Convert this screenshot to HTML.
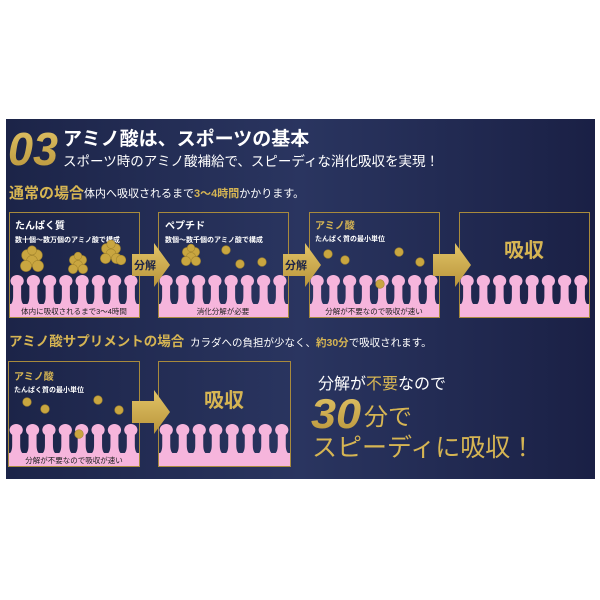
<!DOCTYPE html>
<html><head><meta charset="utf-8"><style>
body{margin:0;background:#fff;width:600px;height:600px;overflow:hidden;font-family:"Liberation Sans","Noto Sans CJK JP",sans-serif}
</style></head><body>
<svg id="s" width="600" height="600" xmlns="http://www.w3.org/2000/svg" style="position:absolute;left:0;top:0">
<defs>
<linearGradient id="bg" x1="0" y1="0" x2="1" y2="0">
<stop offset="0" stop-color="#1c2448"/><stop offset="0.5" stop-color="#2a3560"/><stop offset="1" stop-color="#1a2045"/>
</linearGradient>
<linearGradient id="gold" x1="0" y1="0" x2="0" y2="1">
<stop offset="0" stop-color="#e2c467"/><stop offset="1" stop-color="#b8943a"/>
</linearGradient>
</defs>
<rect x="6" y="119" width="589" height="360" fill="url(#bg)"/>
<g id="dyn"></g>
<text x="8" y="165" font-size="46" font-weight="bold" font-style="italic" fill="url(#gold)" font-family="Liberation Sans, sans-serif" textLength="50" lengthAdjust="spacingAndGlyphs">03</text>
<text x="63" y="145" font-size="19" font-weight="bold" fill="#fff" font-family="Liberation Sans, Noto Sans CJK JP, sans-serif">アミノ酸は、スポーツの基本</text>
<text x="63" y="166" font-size="13.5" fill="#fff" font-family="Liberation Sans, Noto Sans CJK JP, sans-serif">スポーツ時のアミノ酸補給で、スピーディな消化吸収を実現！</text>
<text x="9" y="198" font-size="15" font-weight="bold" fill="#d6b553" font-family="Liberation Sans, Noto Sans CJK JP, sans-serif">通常の場合</text>
<text x="84" y="197" font-size="11" fill="#fff" font-family="Liberation Sans, Noto Sans CJK JP, sans-serif">体内へ吸収されるまで<tspan fill="#d6b553" font-weight="bold">3〜4時間</tspan>かかります。</text>
<text x="9" y="346" font-size="13.5" font-weight="bold" fill="#d6b553" font-family="Liberation Sans, Noto Sans CJK JP, sans-serif">アミノ酸サプリメントの場合</text>
<text x="190" y="346" font-size="10.5" fill="#fff" font-family="Liberation Sans, Noto Sans CJK JP, sans-serif">カラダへの負担が少なく、<tspan fill="#d6b553" font-weight="bold">約30分</tspan>で吸収されます。</text>
<text x="318" y="389" font-size="16" fill="#fff" font-family="Liberation Sans, Noto Sans CJK JP, sans-serif">分解が<tspan fill="#d6b553">不要</tspan>なので</text>
<text x="311" y="428" font-size="42" font-weight="bold" font-style="italic" fill="url(#gold)" font-family="Liberation Sans, sans-serif" textLength="50" lengthAdjust="spacingAndGlyphs">30</text>
<text x="364" y="425" font-size="24" fill="#d6b553" font-family="Liberation Sans, Noto Sans CJK JP, sans-serif">分で</text>
<text x="312" y="456" font-size="25" fill="#d6b553" font-family="Liberation Sans, Noto Sans CJK JP, sans-serif">スピーディに吸収！</text>
</svg>
<script>
var NS="http://www.w3.org/2000/svg",g=document.getElementById('dyn'),F="Liberation Sans, Noto Sans CJK JP, sans-serif";
function el(t,a,txt){var e=document.createElementNS(NS,t);for(var k in a)e.setAttribute(k,a[k]);if(txt)e.textContent=txt;g.appendChild(e);return e;}
var PK='#f6b5dc';
function villi(x0,w,yT,yB,yE){
 el('rect',{x:x0,y:yB,width:w,height:yE-yB,fill:PK});
 var n=8,p=w/n;
 for(var i=0;i<n;i++){var cx=x0+p*i+p/2;
  var d='M'+(cx-4)+' '+(yT+8)+' L'+(cx-4)+' '+(yB-8)+' Q'+(cx-4)+' '+(yB)+' '+(cx-p/2+0.3)+' '+(yB+1)+' L'+(cx+p/2-0.3)+' '+(yB+1)+' Q'+(cx+4)+' '+yB+' '+(cx+4)+' '+(yB-8)+' L'+(cx+4)+' '+(yT+8)+'Z';
  el('path',{d:d,fill:PK});
  el('ellipse',{cx:cx,cy:yT+6,rx:6.6,ry:6,fill:PK});
 }
}
function box(x,y,w,h){el('rect',{x:x+0.5,y:y+0.5,width:w,height:h,fill:'none',stroke:'#a88a3c','stroke-width':1});}
function arrow(x,y,t){el('path',{d:'M'+x+' '+(y-11)+'h22v-11l16 22l-16 22v-11h-22z',fill:'url(#gold)'});
 if(t)el('text',{x:x+2,y:y+4,'font-size':11,'font-weight':'bold',fill:'#1c2448','font-family':F},t);}
function dot(x,y,r){el('circle',{cx:x,cy:y,r:r||4,fill:'#c9a640',stroke:'#a4862e','stroke-width':0.6});}
function cluster(x,y,s){s=s||1;dot(x-4*s,y-4*s,4.6*s);dot(x+4*s,y-4*s,4.6*s);dot(x,y+1,4.6*s);dot(x-5*s,y+5*s,4.6*s);dot(x+5*s,y+5*s,4.6*s);dot(x,y-8*s,3.8*s);}
function label(x,y,t,s,c){el('text',{x:x,y:y,'font-size':s,fill:c,'font-family':F,'font-weight':'bold'},t);}
// row1
var bx=[9,158,309,459];
bx.forEach(function(x){villi(x,130,275,304,317);box(x,212,130,105);});
label(15,229,'たんぱく質',10,'#fff');label(15,242,'数十個〜数万個のアミノ酸で構成',7,'#fff');
label(165,229,'ペプチド',10,'#fff');label(165,242,'数個〜数千個のアミノ酸で構成',7,'#fff');
label(315,229,'アミノ酸',10,'#d6b553');label(315,241,'たんぱく質の最小単位',7,'#fff');
cluster(32,260,1.2);cluster(78,264);cluster(111,253,1.1);dot(121,260,4.8);
cluster(191,256);dot(226,250,4.3);dot(240,264,4.3);dot(262,262,4.3);
dot(328,254,4.3);dot(345,260,4.3);dot(399,252,4.3);dot(420,262,4.3);dot(380,284,4.3);
el('text',{x:74,y:314,'font-size':7.5,fill:'#222','text-anchor':'middle','font-family':F},'体内に吸収されるまで3〜4時間');
el('text',{x:223,y:314,'font-size':7.5,fill:'#222','text-anchor':'middle','font-family':F},'消化分解が必要');
el('text',{x:374,y:314,'font-size':7.5,fill:'#222','text-anchor':'middle','font-family':F},'分解が不要なので吸収が速い');
el('text',{x:524,y:257,'font-size':20,'font-weight':'bold',fill:'#d6b553','text-anchor':'middle','font-family':F},'吸収');
arrow(132,265,'分解');arrow(283,265,'分解');arrow(433,265,'');
// row2
villi(8,131,424,453,466);box(8,361,131,105);
villi(158,132,424,453,466);box(158,361,132,105);
label(14,380,'アミノ酸',10,'#d6b553');label(14,392,'たんぱく質の最小単位',7,'#fff');
dot(27,402,4.3);dot(45,409,4.3);dot(98,400,4.3);dot(119,410,4.3);dot(79,434,4.3);
el('text',{x:74,y:463,'font-size':7.5,fill:'#222','text-anchor':'middle','font-family':F},'分解が不要なので吸収が速い');
el('text',{x:224,y:407,'font-size':20,'font-weight':'bold',fill:'#d6b553','text-anchor':'middle','font-family':F},'吸収');
arrow(132,412,'');
</script>
</body></html>
